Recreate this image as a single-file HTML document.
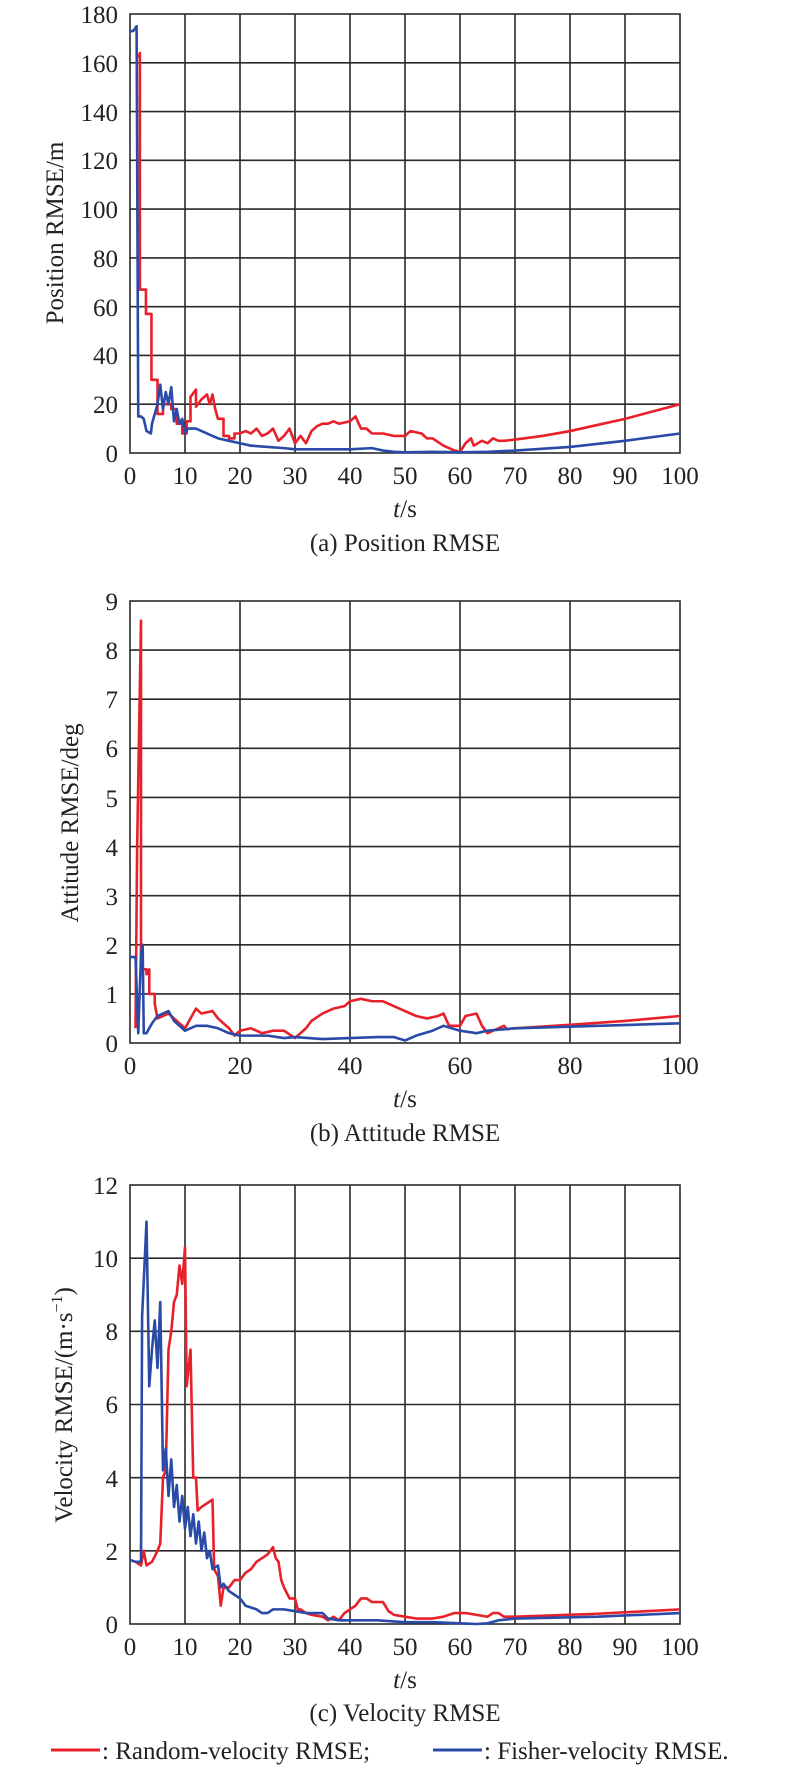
<!DOCTYPE html>
<html><head><meta charset="utf-8"><style>
html,body{margin:0;padding:0;background:#fff;}
svg{display:block;font-family:"Liberation Serif",serif;}
text{fill:#222;}
.g{stroke:#2a2a2a;stroke-width:1.6;fill:none;}
.r{stroke:#e8202a;stroke-width:2.6;fill:none;stroke-linejoin:round;}
.b{stroke:#2a4aa8;stroke-width:2.6;fill:none;stroke-linejoin:round;}
</style></head><body>
<svg width="800" height="1768" viewBox="0 0 800 1768" xmlns="http://www.w3.org/2000/svg">
<!-- Plot a -->
<g class="g">
<rect x="130" y="14" width="550" height="439"/>
<path d="M185 14V453M240 14V453M295 14V453M350 14V453M405 14V453M460 14V453M515 14V453M570 14V453M625 14V453"/>
<path d="M130 62.8H680M130 111.6H680M130 160.3H680M130 209.1H680M130 257.9H680M130 306.7H680M130 355.4H680M130 404.2H680"/>
</g>
<g transform="translate(130,453) scale(5.5,-2.4389)">
<polyline class="r" vector-effect="non-scaling-stroke" points="1.6,162 1.8,164 1.8,67 2.9,67 2.9,57 3.9,57 3.9,30 5,30 5,16 6,16 6,20 7.5,20 7.5,18 8.5,18 8.5,12 9.5,12 9.5,8 10.3,8 10.3,13 11,13 11,23 12,26 12,19 13,22 14,24 14.5,20 15,24 15.5,18 16,14 17,14 17,7 18,7 18,6 19,6 19,8 20,8 21,9 22,8 23,10 24,7 25,8 26,10 27,5 28,7 29,10 30,4 31,7 32,4 33,9 34,11 35,12 36,12 37,13 38,12 40,13 41,15 42,10 43,10 44,8 46,8 48,7 50,7 51,9 53,8 54,6 55,6 57,3 58,2 59,1 60,0.5 61,4 62,6 62.5,3 64,5 65,4 66,6 67,5 68,5 70,5.5 75,7 80,9 85,11.5 90,14 95,17 100,20"/>
<polyline class="b" vector-effect="non-scaling-stroke" points="0,173 0.6,173 1.2,175 1.5,15 2,15 2.5,14 3,9 3.8,8 4,12 5,20 5.5,28 6,18 6.5,25 7,20 7.5,27 8,13 8.5,18 9,12 9.5,14 10,8 10.5,10 12,10 13,9 14,8 15,7 16,6 18,5 20,4 22,3 25,2.5 28,2 30,1.5 35,1.5 40,1.5 44,2 46,1 48,0.5 50,0.3 55,0.5 60,0.3 65,0.5 70,1 80,2.5 90,5 100,8"/>
</g>
<g font-size="25" text-anchor="end">
<text x="118" y="462">0</text><text x="118" y="413">20</text><text x="118" y="364">40</text><text x="118" y="316">60</text><text x="118" y="267">80</text><text x="118" y="218">100</text><text x="118" y="169">120</text><text x="118" y="121">140</text><text x="118" y="72">160</text><text x="118" y="23">180</text>
</g>
<g font-size="25" text-anchor="middle">
<text x="130" y="484">0</text><text x="185" y="484">10</text><text x="240" y="484">20</text><text x="295" y="484">30</text><text x="350" y="484">40</text><text x="405" y="484">50</text><text x="460" y="484">60</text><text x="515" y="484">70</text><text x="570" y="484">80</text><text x="625" y="484">90</text><text x="680" y="484">100</text>
<text x="405" y="517"><tspan font-style="italic">t</tspan>/s</text>
<text x="405" y="551">(a) Position RMSE</text>
<text transform="translate(63,233) rotate(-90)">Position RMSE/m</text>
</g>

<!-- Plot b -->
<g class="g">
<rect x="130" y="601" width="550" height="442"/>
<path d="M240 601V1043M350 601V1043M460 601V1043M570 601V1043"/>
<path d="M130 650.1H680M130 699.2H680M130 748.3H680M130 797.4H680M130 846.6H680M130 895.7H680M130 944.8H680M130 993.9H680"/>
</g>
<g transform="translate(130,1043) scale(5.5,-49.11)">
<polyline class="r" vector-effect="non-scaling-stroke" points="1,0.3 1.3,4 1.6,6 2,8.6 2,1.5 3,1.5 3,1.4 3.5,1.5 3.5,1 4.5,1 4.5,0.8 5,0.5 7,0.6 8,0.5 9,0.4 10,0.3 11,0.5 12,0.7 13,0.6 15,0.65 16,0.5 17,0.4 18,0.3 19,0.15 20,0.25 22,0.3 24,0.2 26,0.25 28,0.25 30,0.1 31,0.2 32,0.3 33,0.45 35,0.6 37,0.7 39,0.75 40,0.85 42,0.9 44,0.85 46,0.85 48,0.75 50,0.65 52,0.55 54,0.5 56,0.55 57,0.6 58,0.35 60,0.35 61,0.55 63,0.6 64,0.35 65,0.2 66,0.25 67,0.3 68,0.35 68.5,0.28 70,0.3 80,0.37 90,0.45 100,0.55"/>
<polyline class="b" vector-effect="non-scaling-stroke" points="0,1.75 1,1.75 1.5,0.2 2,1.8 2.3,2.0 2.5,0.2 3,0.2 4,0.4 5,0.55 6,0.6 7,0.65 8,0.45 9,0.35 10,0.25 12,0.35 14,0.35 16,0.3 18,0.2 20,0.15 25,0.15 28,0.1 30,0.12 35,0.08 40,0.1 45,0.12 48,0.12 50,0.05 52,0.15 55,0.25 57,0.35 60,0.25 63,0.2 65,0.25 70,0.3 100,0.4"/>
</g>
<g font-size="25" text-anchor="end">
<text x="118" y="1052">0</text><text x="118" y="1003">1</text><text x="118" y="954">2</text><text x="118" y="905">3</text><text x="118" y="856">4</text><text x="118" y="807">5</text><text x="118" y="757">6</text><text x="118" y="708">7</text><text x="118" y="659">8</text><text x="118" y="610">9</text>
</g>
<g font-size="25" text-anchor="middle">
<text x="130" y="1074">0</text><text x="240" y="1074">20</text><text x="350" y="1074">40</text><text x="460" y="1074">60</text><text x="570" y="1074">80</text><text x="680" y="1074">100</text>
<text x="405" y="1107"><tspan font-style="italic">t</tspan>/s</text>
<text x="405" y="1141">(b) Attitude RMSE</text>
<text transform="translate(78,823) rotate(-90)">Attitude RMSE/deg</text>
</g>

<!-- Plot c -->
<g class="g">
<rect x="130" y="1185" width="550" height="439"/>
<path d="M185 1185V1624M240 1185V1624M295 1185V1624M350 1185V1624M405 1185V1624M460 1185V1624M515 1185V1624M570 1185V1624M625 1185V1624"/>
<path d="M130 1258.2H680M130 1331.3H680M130 1404.5H680M130 1477.7H680M130 1550.8H680"/>
</g>
<g transform="translate(130,1624) scale(5.5,-36.58)">
<polyline class="r" vector-effect="non-scaling-stroke" points="0,1.75 1,1.7 2,1.6 2.5,2.0 3,1.6 4,1.7 5,2.0 5.5,2.2 6,4 6.5,4.2 7,7.5 7.5,8 8,8.8 8.5,9 9,9.8 9.5,9.3 10,10.3 10.3,6.5 11,7.5 11.5,4 12,4 12.3,3.1 13,3.2 14,3.3 15,3.4 15.3,1.5 16,1.3 16.5,0.5 17,1.0 18,1.0 19,1.2 20,1.2 21,1.4 22,1.5 23,1.7 24,1.8 25,1.9 26,2.1 26.5,1.8 27,1.7 27.5,1.2 28,1.0 29,0.7 30,0.7 30.5,0.4 31,0.4 32,0.3 33,0.25 35,0.2 36,0.1 37,0.2 38,0.1 39,0.3 40,0.4 41,0.5 42,0.7 43,0.7 44,0.6 46,0.6 47,0.35 48,0.25 50,0.2 52,0.15 55,0.15 57,0.2 59,0.3 61,0.3 63,0.25 65,0.2 66,0.3 67,0.3 68,0.2 70,0.2 85,0.28 100,0.4"/>
<polyline class="b" vector-effect="non-scaling-stroke" points="0,1.75 1,1.7 2,1.7 2.2,8.4 3,11 3.5,6.5 4,7.5 4.5,8.3 5,7 5.5,8.8 6,4.2 6.5,4.8 7,3.5 7.5,4.5 8,3.2 8.5,3.8 9,2.8 9.5,3.5 10,2.6 10.5,3.2 11,2.4 11.5,3 12,2.2 12.5,2.8 13,2 13.5,2.5 14,1.8 14.5,2 15,1.5 16,1.6 16.5,1.0 17,1.1 18,0.9 19,0.8 20,0.7 21,0.5 22,0.45 23,0.4 24,0.3 25,0.3 26,0.4 28,0.4 30,0.35 32,0.3 35,0.3 36,0.15 38,0.1 40,0.1 45,0.1 50,0.05 55,0.05 60,0.02 63,0.0 65,0.02 67,0.1 70,0.15 85,0.2 100,0.3"/>
</g>
<g font-size="25" text-anchor="end">
<text x="118" y="1633">0</text><text x="118" y="1560">2</text><text x="118" y="1487">4</text><text x="118" y="1413">6</text><text x="118" y="1340">8</text><text x="118" y="1267">10</text><text x="118" y="1194">12</text>
</g>
<g font-size="25" text-anchor="middle">
<text x="130" y="1655">0</text><text x="185" y="1655">10</text><text x="240" y="1655">20</text><text x="295" y="1655">30</text><text x="350" y="1655">40</text><text x="405" y="1655">50</text><text x="460" y="1655">60</text><text x="515" y="1655">70</text><text x="570" y="1655">80</text><text x="625" y="1655">90</text><text x="680" y="1655">100</text>
<text x="405" y="1688"><tspan font-style="italic">t</tspan>/s</text>
<text x="405" y="1721">(c) Velocity RMSE</text>
<text transform="translate(72,1405) rotate(-90)">Velocity RMSE/(m·s<tspan font-size="16" dy="-10">−1</tspan><tspan dy="10">)</tspan></text>
</g>

<!-- Legend -->
<line x1="51" y1="1750" x2="100" y2="1750" stroke="#e8202a" stroke-width="3"/>
<line x1="433" y1="1750" x2="482" y2="1750" stroke="#2a4aa8" stroke-width="3"/>
<g font-size="25">
<text x="102" y="1759">: Random-velocity RMSE;</text>
<text x="484" y="1759">: Fisher-velocity RMSE.</text>
</g>
</svg>
</body></html>
